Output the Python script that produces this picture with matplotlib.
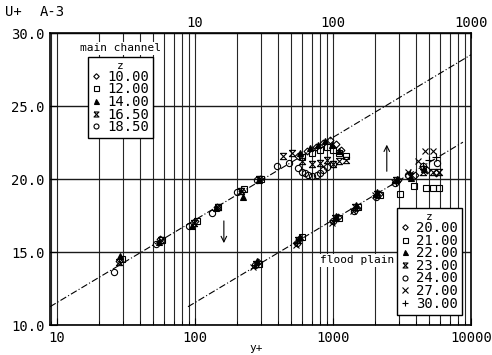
import numpy as np
import matplotlib
matplotlib.use('Agg')
import matplotlib.pyplot as plt
from matplotlib.ticker import LogLocator, NullFormatter, FixedLocator, FormatStrFormatter

MONO = 'DejaVu Sans Mono'
plt.rcParams['font.family'] = MONO

# log-law  U+ = (1/kappa) ln(y+) + A
KAPPA = 0.407
A_CONST = 5.88
X_MIN, X_MAX = 8.9, 10000.
SHIFT = 10.   # flood plain data drawn one decade to the right (top axis)

# main channel  (z, y+, U+)
mc_z = [10.0, 12.0, 14.0, 16.5, 18.5]
mc_y = [
    [28.3, 56, 100, 145, 218, 295, 560, 650, 750, 850, 950, 1050, 1150],
    [29.5, 58, 104, 148, 225, 300, 600, 700, 800, 900, 1000, 1100, 1250],
    [28.6, 55, 95, 142, 222, 290, 580, 680, 780, 880, 980, 1100],
    [28.0, 57, 98, 146, 215, 292, 435, 505, 600, 700, 800, 900, 1000, 1100, 1250],
    [25.9, 52, 91, 132, 200, 280, 393, 480, 557, 596, 626, 659, 705, 766, 806, 848, 906, 1000],
]
mc_u = [
    [14.4, 15.9, 17.1, 18.1, 19.2, 20.0, 21.6, 21.9, 22.2, 22.5, 22.7, 22.4, 22.0],
    [14.5, 15.8, 17.15, 18.1, 19.3, 20.0, 21.5, 21.8, 22.0, 22.2, 22.0, 21.8, 21.6],
    [14.7, 15.7, 16.75, 18.0, 18.8, 19.95, 21.8, 22.1, 22.3, 22.6, 22.3, 21.9],
    [14.3, 15.8, 17.0, 18.05, 19.2, 20.0, 21.6, 21.8, 21.2, 21.0, 21.1, 21.3, 21.0, 21.2, 21.3],
    [13.6, 15.55, 16.8, 17.7, 19.1, 19.9, 20.9, 21.1, 20.75, 20.5, 20.4, 20.27, 20.2, 20.27, 20.4, 20.6, 20.8, 21.0],
]

# flood plain  (z, y+, U+)   y+ in top-axis units
fp_z = [20.0, 21.0, 22.0, 23.0, 24.0, 27.0, 30.0]
fp_y = [
    [28.5, 57, 108, 150, 215, 295, 390, 480, 560],
    [29, 60, 110, 152, 220, 305, 385, 470, 530, 590],
    [28, 58, 106, 146, 210, 290, 370, 460],
    [27.5, 56, 104, 144, 208, 285, 360, 450, 530, 590],
    [27, 54.5, 100, 142, 205, 280, 350, 450, 565],
    [26.5, 54, 99, 140, 200, 275, 348, 415, 465, 528],
    [27, 55, 102, 145, 206, 288, 360, 450, 500, 560],
]
fp_u = [
    [14.3, 15.9, 17.4, 18.0, 19.0, 19.9, 20.3, 20.6, 20.4],
    [14.2, 16.0, 17.3, 18.1, 18.9, 19.0, 19.5, 19.4, 19.4, 19.4],
    [14.4, 16.0, 17.5, 18.2, 19.1, 20.0, 20.1, 20.7],
    [14.2, 15.8, 17.3, 18.1, 19.0, 19.9, 20.2, 20.5, 20.5, 20.5],
    [14.1, 15.6, 17.1, 17.8, 18.8, 19.7, 20.3, 20.9, 21.1],
    [14.0, 15.5, 17.0, 17.8, 18.9, 19.8, 20.5, 21.2, 21.9, 21.9],
    [14.1, 15.6, 17.2, 18.0, 18.9, 19.8, 20.4, 20.9, 21.3, 21.5],
]

# hourglass marker
hourglass = [(-1, 1), (1, 1), (-1, -1), (1, -1), (-1, 1)]
mc_style = [
    dict(marker='D', ms=3.5, mfc='none'),
    dict(marker='s', ms=4.5, mfc='none'),
    dict(marker='^', ms=4.5, mfc='k'),
    dict(marker=hourglass, ms=4.5, mfc='none'),
    dict(marker='o', ms=4.5, mfc='none'),
]
fp_style = mc_style + [
    dict(marker='x', ms=5, mfc='none'),
    dict(marker='+', ms=6, mfc='none'),
]

fig = plt.figure(figsize=(4.92, 3.55), dpi=100)
ax = fig.add_axes([0.1016, 0.0845, 0.8557, 0.8225])
ax.set_xscale('log')
ax.set_xlim(X_MIN, X_MAX)
ax.set_ylim(10, 30)

# log-law lines
xl = np.logspace(np.log10(X_MIN), np.log10(X_MAX), 50)
ax.plot(xl, np.log(xl) / KAPPA + A_CONST, color='k', lw=0.8, ls=(0, (6, 2, 1, 2)))
xl2 = xl * SHIFT
xl2 = xl2[xl2 <= X_MAX]
ax.plot(xl2, np.log(xl2 / SHIFT) / KAPPA + A_CONST, color='k', lw=0.8, ls=(0, (6, 2, 1, 2)))

h1 = []
for z, xs, us, st in zip(mc_z, mc_y, mc_u, mc_style):
    h, = ax.plot(xs, us, ls='none', color='k', mec='k', mew=0.8, label='%.2f' % z, **st)
    h1.append(h)
h2 = []
for z, xs, us, st in zip(fp_z, fp_y, fp_u, fp_style):
    h, = ax.plot(np.array(xs) * SHIFT, us, ls='none', color='k', mec='k', mew=0.8,
                 label='%.2f' % z, **st)
    h2.append(h)

# grid
ax.xaxis.set_major_locator(LogLocator(base=10))
ax.xaxis.set_minor_locator(LogLocator(base=10, subs=np.arange(2, 10)))
ax.xaxis.set_minor_formatter(NullFormatter())
ax.xaxis.set_major_formatter(FormatStrFormatter('%d'))
ax.yaxis.set_major_locator(FixedLocator([10, 15, 20, 25, 30]))
ax.yaxis.set_major_formatter(FormatStrFormatter('%.1f'))
ax.grid(True, which='both', axis='x', color='0.15', lw=0.8)
ax.grid(True, which='major', axis='y', color='0.1', lw=1.0)
ax.tick_params(which='both', direction='in', labelsize=10, pad=4)
ax.tick_params(which='major', length=5)
ax.tick_params(which='minor', length=3)
for sp in ax.spines.values():
    sp.set_linewidth(1.2)

top = ax.secondary_xaxis('top', functions=(lambda x: x / SHIFT, lambda x: x * SHIFT))
top.xaxis.set_major_locator(FixedLocator([10, 100, 1000]))
top.xaxis.set_minor_locator(LogLocator(base=10, subs=np.arange(2, 10)))
top.xaxis.set_minor_formatter(NullFormatter())
top.xaxis.set_major_formatter(FormatStrFormatter('%d'))
top.tick_params(which='both', direction='in', labelsize=10, pad=2)
top.tick_params(which='minor', length=3)

leg_kw = dict(title='z', loc='upper left', borderaxespad=0, frameon=True, fancybox=False,
              edgecolor='k', framealpha=1, fontsize=10, title_fontsize=8,
              handlelength=0.6, handletextpad=0.5, labelspacing=-0.1,
              borderpad=0.3, markerscale=0.8)
leg1 = ax.legend(handles=h1, bbox_to_anchor=(0.090, 0.918), **leg_kw)
leg1.get_frame().set_linewidth(1.0)
ax.add_artist(leg1)
leg2 = ax.legend(handles=h2, bbox_to_anchor=(0.824, 0.40), **leg_kw)
leg2.get_frame().set_linewidth(1.0)

ax.text(0.071, 0.947, 'main channel', transform=ax.transAxes, fontsize=8, va='center',
        bbox=dict(facecolor='white', edgecolor='none', pad=1))
ax.text(0.641, 0.222, 'flood plain', transform=ax.transAxes, fontsize=8, va='center',
        bbox=dict(facecolor='white', edgecolor='none', pad=1))

# arrows
ax.annotate('', xy=(0.413, 0.271), xytext=(0.413, 0.366), xycoords='axes fraction',
            arrowprops=dict(arrowstyle='->', color='k', lw=0.8))
ax.annotate('', xy=(0.80, 0.627), xytext=(0.80, 0.517), xycoords='axes fraction',
            arrowprops=dict(arrowstyle='->', color='k', lw=0.8))

fig.text(0.010, 0.965, 'U+', fontsize=10, va='center')
fig.text(0.081, 0.965, 'A-3', fontsize=10, va='center')
fig.text(0.507, 0.020, 'y+', fontsize=8, va='center')

plt.savefig('out.png', dpi=100)
